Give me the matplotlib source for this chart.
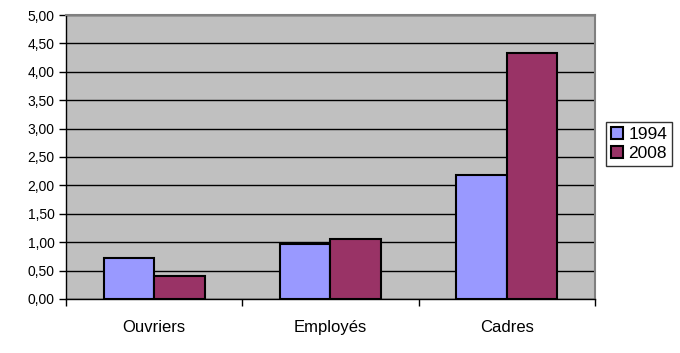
import numpy as np
import matplotlib.pyplot as plt
from matplotlib.ticker import FixedLocator, FuncFormatter

categories = ['Ouvriers', 'Employés', 'Cadres']
series_names = ['1994', '2008']
values_1994 = [0.72, 0.97, 2.18]
values_2008 = [0.40, 1.06, 4.33]

plt.rcParams['font.family'] = ['Liberation Sans', 'DejaVu Sans']

fig = plt.figure(figsize=(6.8, 3.53), dpi=100)
ax = fig.add_axes([0.097, 0.153, 0.778, 0.8045])

x = np.arange(len(categories))
w = 0.287
ax.bar(x - w / 2, values_1994, w, color='#9999FF', edgecolor='black', linewidth=1.5,
       label=series_names[0], zorder=3)
ax.bar(x + w / 2, values_2008, w, color='#993366', edgecolor='black', linewidth=1.5,
       label=series_names[1], zorder=3)

ax.set_facecolor('#C0C0C0')
ax.set_xlim(-0.5, 2.5)
ax.set_ylim(0, 5)
ax.set_yticks(np.arange(0, 5.01, 0.5))
ax.yaxis.set_major_formatter(FuncFormatter(lambda v, p: f'{v:.2f}'.replace('.', ',')))
ax.grid(axis='y', color='black', linewidth=1, zorder=0)

ax.set_xticks(x)
ax.set_xticklabels(categories, fontsize=12)
ax.xaxis.set_minor_locator(FixedLocator([-0.5, 0.5, 1.5, 2.5]))
ax.tick_params(axis='x', which='major', length=0, pad=15)
ax.tick_params(axis='x', which='minor', length=5, width=1, color='black', direction='out')
ax.tick_params(axis='y', labelsize=10, length=5, width=1, direction='out', pad=3)

for s in ['top', 'right']:
    ax.spines[s].set_color('#808080')
    ax.spines[s].set_linewidth(1.5)
for s in ['left', 'bottom']:
    ax.spines[s].set_color('black')
    ax.spines[s].set_linewidth(1)

leg = ax.legend(loc='center left', bbox_to_anchor=(1.02, 0.545), fontsize=12.5, frameon=True,
                fancybox=False, edgecolor='black', handlelength=0.7, handleheight=0.7,
                handletextpad=0.3, borderpad=0.3, labelspacing=0.2, borderaxespad=0)
leg.get_frame().set_linewidth(1)

fig.savefig('out.png', dpi=100)
